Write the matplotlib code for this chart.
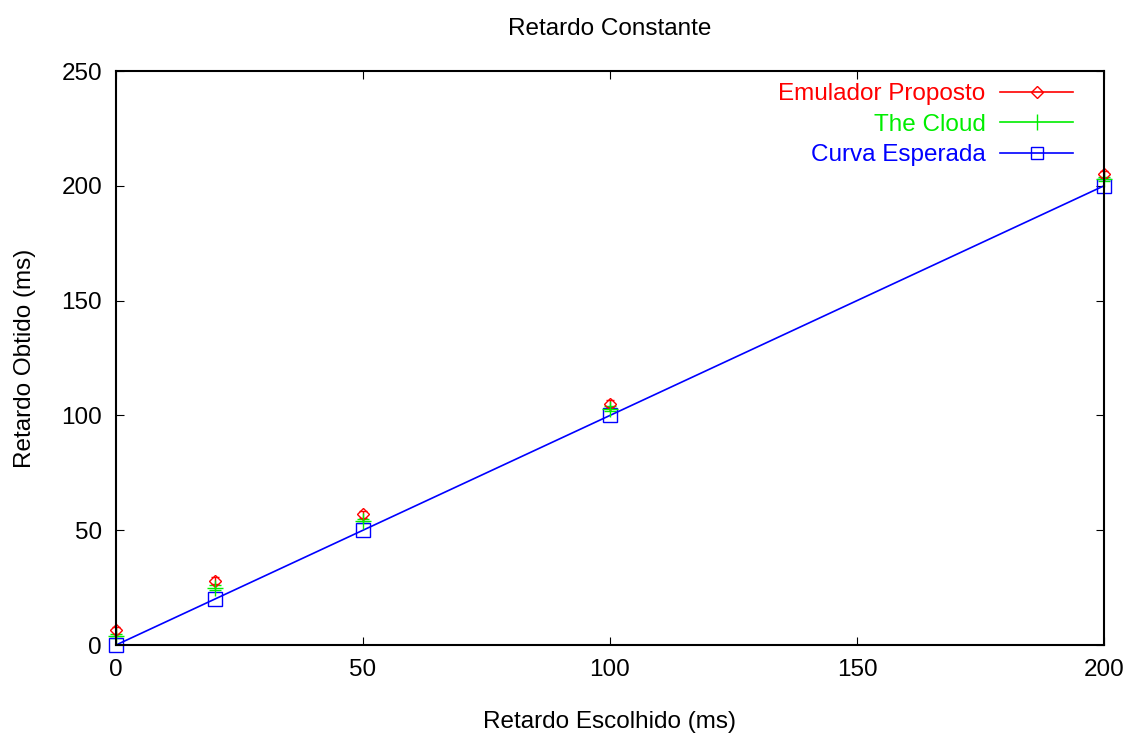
import numpy as np
import matplotlib.pyplot as plt
from matplotlib.lines import Line2D

plt.rcParams['font.family'] = ['Liberation Sans', 'DejaVu Sans']

# Dados
retardo_escolhido = [0, 20, 50, 100, 200]
emulador = [6.5, 28, 57, 105, 205]
erro_emulador = [1.5, 1.5, 1.5, 1.5, 1.5]
the_cloud = [4, 25, 54, 103, 203]
erro_cloud = [1.0, 1.0, 1.0, 1.0, 1.0]
esperada = [0, 20, 50, 100, 200]

fig = plt.figure(figsize=(11.27, 7.35), dpi=100)
ax = fig.add_axes([0.1029, 0.1224, 0.8767, 0.781])

ax.errorbar(retardo_escolhido, emulador, yerr=erro_emulador, color='red', marker='D',
            mfc='none', ms=6, ls='none', capsize=3, lw=1, clip_on=False)
ax.errorbar(retardo_escolhido, the_cloud, yerr=erro_cloud, color='#00ee00', marker='+',
            ms=12, ls='none', capsize=4, lw=1, clip_on=False)
ax.plot(retardo_escolhido, esperada, color='blue', marker='s', mfc='none', ms=10,
        lw=1.2, clip_on=False)

ax.set_xlim(0, 200)
ax.set_ylim(0, 250)
ax.set_xticks([0, 50, 100, 150, 200])
ax.set_yticks([0, 50, 100, 150, 200, 250])
ax.tick_params(direction='in', length=6, labelsize=17.5, top=True, right=True, pad=10)
for s in ax.spines.values():
    s.set_linewidth(1.5)

ax.set_title('Retardo Constante', fontsize=17.5, pad=26)
ax.set_xlabel('Retardo Escolhido (ms)', fontsize=17.5, labelpad=22)
ax.set_ylabel('Retardo Obtido (ms)', fontsize=17.5, labelpad=18)

handles = [
    Line2D([], [], color='red', marker='D', mfc='none', ms=6, lw=1.2),
    Line2D([], [], color='#00ee00', marker='|', ms=12, lw=1.2),
    Line2D([], [], color='blue', marker='s', mfc='none', ms=9, lw=1.2),
]
labels = ['Emulador Proposto', 'The Cloud', 'Curva Esperada']
leg = ax.legend(handles, labels, loc='upper right', frameon=False, markerfirst=False,
                fontsize=17.5, labelcolor='linecolor', handlelength=3.0,
                handletextpad=0.6, borderaxespad=0.2, borderpad=0.3,
                labelspacing=0.35, bbox_to_anchor=(0.981, 1.0))

fig.savefig('out.png', dpi=100)
